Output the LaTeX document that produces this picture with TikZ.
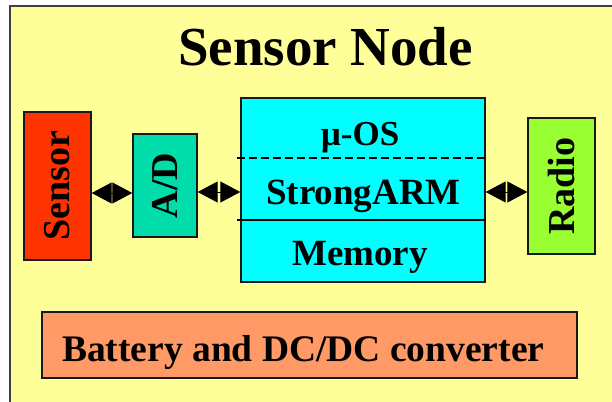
\documentclass[tikz,border=0pt]{standalone}
\usepackage{fontspec}
\setmainfont{Liberation Serif}
\usetikzlibrary{arrows.meta}
\definecolor{bgyellow}{HTML}{FFFF99}
\definecolor{sensorred}{HTML}{FF3300}
\definecolor{adgreen}{HTML}{00DDAA}
\definecolor{cpucyan}{HTML}{00FFFF}
\definecolor{radiogreen}{HTML}{99FF33}
\definecolor{battorange}{HTML}{FF9966}
\begin{document}
\begin{tikzpicture}[x=1pt,y=-1pt,
  blockbox/.style={draw=black!90, line width=1.4pt, inner sep=0pt, font=\bfseries\fontsize{38}{40}\selectfont},
  biarrow/.style={line width=1pt, {Triangle[length=20pt,width=21pt]}-{Triangle[length=20pt,width=21pt]}},
  lbl/.style={inner sep=0pt, anchor=base, font=\bfseries\fontsize{37}{40}\selectfont}]
\useasboundingbox (0,0) rectangle (612,401);
\fill[white] (0,0) rectangle (612,401);
\draw[fill=bgyellow, draw=black!75, line width=1.5pt] (10,6) rectangle (640,430);
\node[inner sep=0pt, anchor=base, font=\bfseries\fontsize{55}{56}\selectfont] (title) at (325.5,65.7) {Sensor Node};
\node[blockbox, fill=sensorred, minimum width=67pt, minimum height=148pt] (sensor) at (57.5,186) {\rotatebox{90}{Sensor}};
\node[blockbox, fill=adgreen, minimum width=64pt, minimum height=103pt] (ad) at (165,185.5) {\rotatebox{90}{A/D}};
\node[blockbox, fill=cpucyan, minimum width=244pt, minimum height=184pt] (cpu) at (363,190) {};
\node[blockbox, fill=radiogreen, minimum width=67pt, minimum height=136pt] (radio) at (561.5,186) {\rotatebox{90}{Radio}};
\node[blockbox, fill=battorange, minimum width=535pt, minimum height=66pt] (batt) at (309.5,345) {};
\node[lbl, anchor=base west, font=\bfseries\fontsize{37.5}{40}\selectfont] (battlbl) at (62,361) {Battery and DC/DC converter};
\coordinate (dashL) at (237,158.3);
\coordinate (solidL) at (237,220);
\draw[line width=1.8pt, dash pattern=on 8pt off 4pt] (dashL) -- (dashL -| cpu.east);
\draw[line width=1.6pt] (solidL) -- (solidL -| cpu.east);
\node[lbl, font=\bfseries\fontsize{35}{36}\selectfont] (os) at (360,145) {µ-OS};
\node[lbl] (arm) at (363.5,204) {StrongARM};
\node[lbl] (mem) at (360,265.7) {Memory};
\draw[biarrow] ([yshift=-7pt]sensor.east) -- ([yshift=-7.5pt]ad.west);
\draw[biarrow] ([yshift=-6.5pt]ad.east) -- ([yshift=-2pt]cpu.west);
\draw[biarrow] ([yshift=-2pt]cpu.east) -- ([yshift=-6pt]radio.west);
\end{tikzpicture}
\end{document}
